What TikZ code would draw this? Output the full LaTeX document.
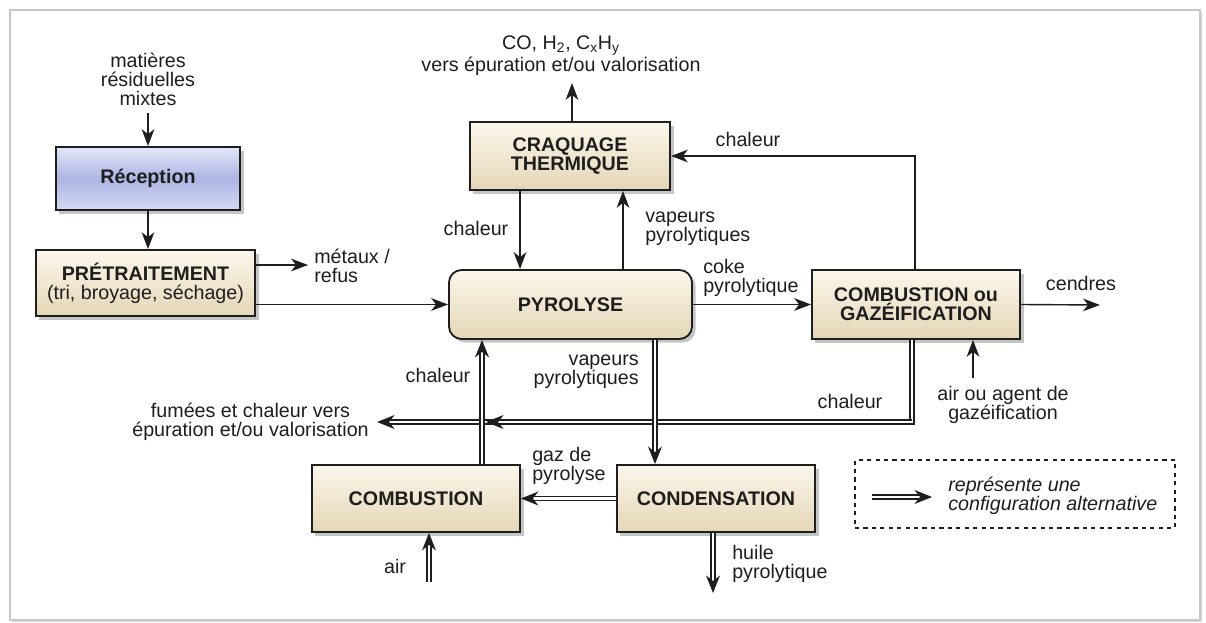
\documentclass[tikz,border=0pt]{standalone}
\usepackage{fontspec}
\setmainfont{Liberation Sans}
\usepackage{tikz}
\usetikzlibrary{arrows.meta, shadows, decorations.markings}
\tikzset{>={Stealth[length=12pt,width=9pt,inset=3.5pt]}}
\definecolor{boxtop}{HTML}{FCF7EC}
\definecolor{boxbot}{HTML}{E4D6B6}
\definecolor{rectop}{HTML}{E4E7F8}
\definecolor{recmid}{HTML}{AEB5E4}
\definecolor{ink}{HTML}{1E1E1E}

\tikzset{
    procbox/.style={draw=ink, line width=1.3pt, top color=boxtop, bottom color=boxbot,
        text=ink, font=\bfseries\fontsize{14}{13.5}\selectfont, align=center,
        drop shadow={shadow xshift=2.5pt, shadow yshift=-2.5pt, opacity=0.45}},
    lbl/.style={font=\fontsize{14}{13.5}\selectfont, text=ink, align=center, inner sep=0pt},
    flow/.style={->, line width=1pt, draw=ink},
    altflow/.style={draw=ink, double, double distance=2pt, line width=0.9pt, shorten >=7pt,
        decoration={markings, mark=at position 1 with
            {\fill[ink] (0pt,0pt) -- (-12.5pt,5pt) -- (-8.5pt,0pt) -- (-12.5pt,-5pt) -- cycle;}},
        postaction={decorate}},
}

\begin{document}
\begin{tikzpicture}[x=0.025cm, y=-0.025cm]
    \useasboundingbox (0,0) rectangle (1206,623);
    % Frame
    \draw[black!22, line width=1.3pt, fill=white,
        drop shadow={shadow xshift=1.5pt, shadow yshift=-1.5pt, opacity=0.3}] (10,10) rectangle (1200,620);

    % Coordinates
    \coordinate (feed) at (148,113);
    \coordinate (refus) at (308,265);
    \coordinate (syngas) at (572,83);
    \coordinate (xheat) at (520,0);
    \coordinate (xvap) at (623,0);
    \coordinate (xloop) at (915,0);
    \coordinate (ash) at (1100,305);
    \coordinate (agent) at (973,378);
    \coordinate (xalt) at (912,0);
    \coordinate (fumes) at (377,422);
    \coordinate (fumtip) at (486,422);
    \coordinate (xup) at (482,0);
    \coordinate (xdown) at (655,0);
    \coordinate (airin) at (429,582);
    \coordinate (oil) at (713,593);
    \coordinate (keyA) at (872,497);
    \coordinate (keyB) at (932,497);

    % Boxes
    \node[procbox, minimum width=4.6cm, minimum height=1.575cm,
        top color=rectop, bottom color=rectop!70!recmid, middle color=recmid] (recep) at (148,178.5) {Réception};
    \node[procbox, minimum width=5.475cm, minimum height=1.65cm] (pretrait) at (145.5,283)
        {PRÉTRAITEMENT\\{\mdseries (tri, broyage, séchage)}};
    \node[procbox, minimum width=5cm, minimum height=1.7cm] (craq) at (570,156) {CRAQUAGE\\THERMIQUE};
    \node[procbox, rounded corners=9pt, minimum width=6.075cm, minimum height=1.725cm] (pyro) at (570.5,304.5) {PYROLYSE};
    \node[procbox, minimum width=5.2cm, minimum height=1.725cm] (combgaz) at (916,304.5) {COMBUSTION ou\\GAZÉIFICATION};
    \node[procbox, minimum width=5.2cm, minimum height=1.675cm] (comb) at (416,498.5) {COMBUSTION};
    \node[procbox, minimum width=4.95cm, minimum height=1.675cm] (cond) at (716,498.5) {CONDENSATION};

    % Legend
    \node[draw=ink, dashed, line width=0.8pt, minimum width=8cm, minimum height=1.7cm] (legend) at (1015,494) {};
    \node[lbl, anchor=west, align=left, font=\itshape\fontsize{14}{13.5}\selectfont] (legtxt) at (948,496)
        {représente une\\configuration alternative};

    % Text
    \node[lbl] (feedtxt) at (148,79) {matières\\résiduelles\\mixtes};
    \node[lbl, anchor=west, align=left] (refustxt) at (314,266) {métaux /\\refus};
    \node[lbl] (syntxt) at (561,56) {CO, H\textsubscript{2}, C\textsubscript{x}H\textsubscript{y}\\vers épuration et/ou valorisation};
    \node[lbl] (heattxt) at (476,228) {chaleur};
    \node[lbl, anchor=west, align=left] (vaptxt) at (645,229) {vapeurs\\pyrolytiques};
    \node[lbl, anchor=west, align=left] (coketxt) at (703,278) {coke\\pyrolytique};
    \node[lbl] (looptxt) at (748,139) {chaleur};
    \node[lbl] (ashtxt) at (1081,283) {cendres};
    \node[lbl] (agenttxt) at (1003,405) {air ou agent de\\gazéification};
    \node[lbl] (alttxt) at (850,401) {chaleur};
    \node[lbl, anchor=east] (fumtxt) at (369,422) {fumées et chaleur vers\\épuration et/ou valorisation};
    \node[lbl] (uptxt) at (438,375) {chaleur};
    \node[lbl, anchor=east, align=right] (downtxt) at (639,372) {vapeurs\\pyrolytiques};
    \node[lbl, anchor=west, align=left] (gastxt) at (532,466) {gaz de\\pyrolyse};
    \node[lbl] (airtxt) at (395,566) {air};
    \node[lbl, anchor=west, align=left] (oiltxt) at (732,564) {huile\\pyrolytique};

    % Lines
    \draw[flow] (feed) -- (feed |- recep.north);
    \draw[flow] (recep.south) -- (recep.south |- pretrait.north);
    \draw[flow] (pretrait.east |- refus) -- (refus);
    \draw[flow] (pretrait.east |- pyro.west) -- (pyro.west);
    \draw[flow] (craq.north -| syngas) -- (syngas);
    \draw[flow] (craq.south -| xheat) -- (pyro.north -| xheat);
    \draw[flow] (pyro.north -| xvap) -- (craq.south -| xvap);
    \draw[flow] (pyro.east) -- (combgaz.west);
    \draw[flow] (combgaz.north -| xloop) |- (craq.east);
    \draw[flow] (combgaz.east) -- (ash);
    \draw[flow] (agent) -- (agent |- combgaz.south);

    % Alternative lines
    \draw[altflow] (combgaz.south -| xalt) |- (fumes);
    \draw[altflow] (fumes -| xalt) -- (fumtip);
    \draw[altflow] (comb.north -| xup) -- (pyro.south -| xup);
    \draw[altflow] (pyro.south -| xdown) -- (cond.north -| xdown);
    \draw[altflow] (cond.west) -- (comb.east);
    \draw[altflow] (airin) -- (airin |- comb.south);
    \draw[altflow] (cond.south -| oil) -- (oil);
    \draw[altflow] (keyA) -- (keyB);
\end{tikzpicture}
\end{document}
